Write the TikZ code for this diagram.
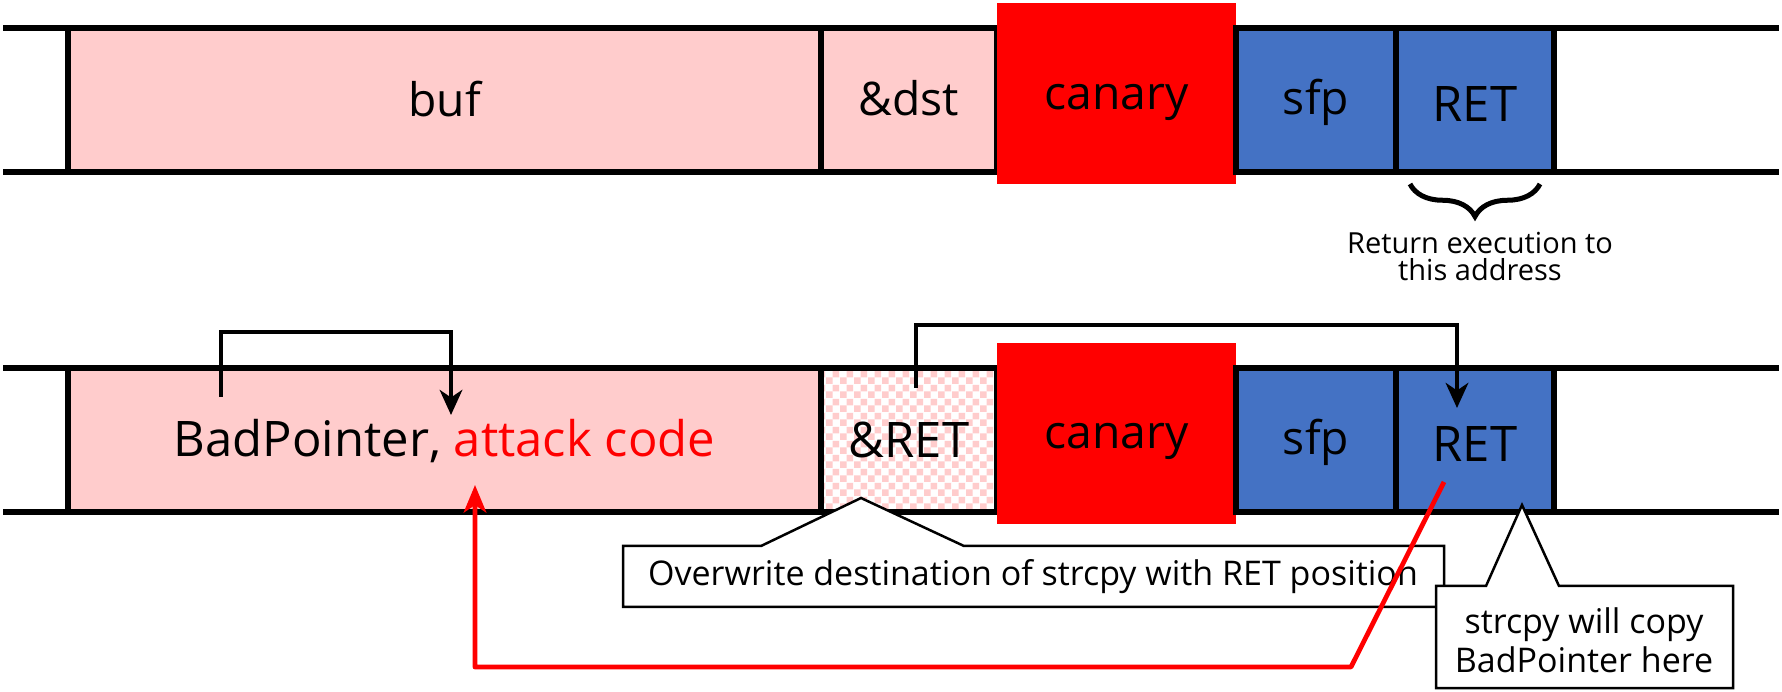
\documentclass[tikz,border=0pt]{standalone}
\usepackage{fontspec}
\setmainfont{Open Sans}
\usetikzlibrary{arrows.meta,fit,decorations.pathreplacing,patterns.meta}
\definecolor{pinkfill}{HTML}{FFCCCC}
\definecolor{bluefill}{HTML}{4472C4}
\definecolor{canaryred}{HTML}{FF0000}
\newcommand\lblbig{\fontsize{18.5}{22}\selectfont}
\newcommand\lblbigger{\fontsize{19.6}{22}\selectfont}
\newcommand\lblmid{\fontsize{13.6}{15.6}\selectfont}
\newcommand\lblsmall{\fontsize{11.6}{10.8}\selectfont}
\tikzdeclarepattern{
  name=pinkcheck,
  type=uncolored,
  bottom left={(0pt,0pt)},
  top right={(5.6pt,5.6pt)},
  tile size={(5.6pt,5.6pt)},
  code={\fill (0pt,0pt) rectangle (2.8pt,2.8pt); \fill (2.8pt,2.8pt) rectangle (5.6pt,5.6pt);}
}
\begin{document}
\begin{tikzpicture}[x=0.4pt,y=-0.4pt,
  rail/.style={line width=2.2pt},
  cell/.style={draw=black,line width=2.2pt,inner sep=0pt},
  canbox/.style={fill=canaryred,inner sep=0pt},
  lbl/.style={font=\lblbig,inner sep=0pt,anchor=base},
  cfont/.style={font=\lblmid,inner sep=0pt,align=center},
  ptr/.style={line width=1.8pt,-{Stealth[length=10pt,width=9pt,inset=3pt]}},
  redptr/.style={line width=1.9pt,draw=canaryred,line join=round,-{Stealth[length=11pt,width=9pt,inset=3pt,fill=canaryred]}},
  callout/.style={draw=black,line width=1pt,fill=white,line join=miter},
]
\fill[white] (0,0) rectangle (1782,692);
\useasboundingbox (0,0) rectangle (1782,692);

% ---------- top row ----------
\draw[rail] (3,28) -- (1779,28);
\draw[rail] (3,172) -- (1779,172);
\node[cell,fill=pinkfill,fit={(68,28)(821,172)}] (buf) {};
\node[cell,fill=pinkfill,fit={(821,28)(997,172)}] (dst) {};
\node[canbox,fit={(997,3)(1236,184)}] (can1) {};
\node[cell,fill=bluefill,fit={(1236,28)(1396,172)}] (sfp1) {};
\node[cell,fill=bluefill,fit={(1396,28)(1554,172)}] (ret1) {};
\node[lbl] (buft) at (444.5,117) {buf};
\node[lbl] (dstt) at (909,116) {\&dst};
\node[lbl] (can1t) at (1116.5,110) {canary};
\node[lbl] (sfp1t) at (1316,115) {sfp};
\node[lbl,font=\lblbigger] (ret1t) at (1475,122) {RET};
\draw[line width=2pt,decorate,decoration={brace,amplitude=13pt,mirror}] (1410,184) -- (1540,184);
\node[font=\lblsmall,align=center,inner sep=0pt] (cap) at (1480,257) {Return execution to\\this address};

% ---------- bottom row ----------
\draw[rail] (3,368) -- (1779,368);
\draw[rail] (3,512) -- (1779,512);
\node[cell,fill=pinkfill,fit={(68,368)(821,512)}] (bad) {};
\node[cell,preaction={fill=white},pattern={pinkcheck},pattern color=pinkfill,fit={(821,368)(997,512)}] (aret) {};
\node[canbox,fit={(997,343)(1236,524)}] (can2) {};
\node[cell,fill=bluefill,fit={(1236,368)(1396,512)}] (sfp2) {};
\node[cell,fill=bluefill,fit={(1396,368)(1554,512)}] (ret2) {};
\node[lbl,font=\lblbigger] (badt) at (444.5,457) {BadPointer, \textcolor{canaryred}{attack code}};
\node[lbl,font=\lblbigger] (arett) at (909,458) {\&RET};
\node[lbl] (can2t) at (1116.5,449) {canary};
\node[lbl] (sfp2t) at (1316,455) {sfp};
\node[lbl,font=\lblbigger] (ret2t) at (1475,462) {RET};

% black arrows
\coordinate (a1s) at (221,397);
\coordinate (a1e) at (451,415);
\draw[ptr] (a1s) -- ++(0,-65) -| (a1e);
\coordinate (a2s) at (916,388);
\coordinate (a2e) at (1457,408);
\draw[ptr] (a2s) -- ++(0,-63) -| (a2e);

% callouts
\draw[callout] (623,546) -- (761,546) -- (861,498) -- (964,546) -- (1444,546) -- (1444,607) -- (623,607) -- cycle;
\node[cfont] (c1) at (1033,577) {Overwrite destination of strcpy with RET position};
\draw[callout] (1436,586) -- (1486,586) -- (1522,505) -- (1559,586) -- (1733,586) -- (1733,688) -- (1436,688) -- cycle;
\node[cfont] (c2) at (1584,640) {strcpy will copy\\BadPointer here};

% red arrow
\coordinate (rs) at (1444,482);
\coordinate (rk) at (1351,667);
\coordinate (re) at (475,485);
\draw[redptr] (rs) -- (rk) -| (re);
\end{tikzpicture}
\end{document}
